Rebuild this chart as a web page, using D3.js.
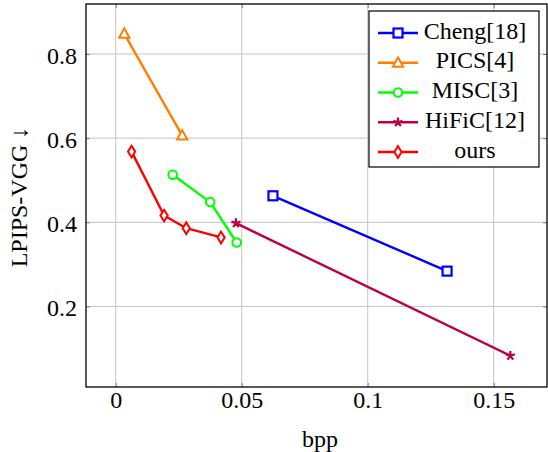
<!DOCTYPE html>
<meta charset="utf-8">
<style>
  body { margin: 0; background: #fff; }
</style>
<svg id="chart" width="548" height="452" font-family="Liberation Serif" font-size="24"></svg>
<script src="https://d3js.org/d3.v7.min.js"></script>
<script>
  // series: names, colours, marks and the read-off points (bpp, LPIPS-VGG)
  var seriesNames = ["Cheng[18]", "PICS[4]", "MISC[3]", "HiFiC[12]", "ours"];
  var seriesColors = ["#0000ff", "#ff8000", "#00ff00", "#bf0040", "#ff0000"];
  var seriesMarks = ["square", "triangle", "circle", "star", "diamond"];

  var chengBpp = [0.0624, 0.1315];
  var chengLpips = [0.463, 0.284];
  var picsBpp = [0.0034, 0.0264];
  var picsLpips = [0.848, 0.606];
  var miscBpp = [0.0226, 0.0375, 0.0480];
  var miscLpips = [0.513, 0.448, 0.352];
  var hificBpp = [0.0477, 0.1566];
  var hificLpips = [0.398, 0.083];
  var oursBpp = [0.0063, 0.0192, 0.0280, 0.0418];
  var oursLpips = [0.568, 0.416, 0.386, 0.364];

  var xTicks = [0, 0.05, 0.1, 0.15];
  var xTickLabels = ["0", "0.05", "0.1", "0.15"];
  var yTicks = [0.2, 0.4, 0.6, 0.8];
  var yTickLabels = ["0.2", "0.4", "0.6", "0.8"];

  var bppCols = [chengBpp, picsBpp, miscBpp, hificBpp, oursBpp];
  var lpipsCols = [chengLpips, picsLpips, miscLpips, hificLpips, oursLpips];
  var series = seriesNames.map(function(name, i) {
    return {
      name: name, color: seriesColors[i], mark: seriesMarks[i],
      pts: bppCols[i].map(function(b, j) { return [b, lpipsCols[i][j]]; })
    };
  });

  var pLeft = 86, pRight = 547, pTop = 4, pBottom = 387;
  var textStyle = "font-family:'Liberation Serif';font-size:24px";
  var svg = d3.select("#chart");

  var x = d3.scaleLinear().domain([-0.01179, 0.17115]).range([pLeft, pRight]);
  var y = d3.scaleLinear().domain([0.0086, 0.9188]).range([pBottom, pTop]);

  // grid
  var grid = svg.append("g").attr("stroke", "#c4c4c4").attr("stroke-width", 1);
  grid.selectAll(".gx").data(xTicks).enter().append("line")
      .attr("x1", d => x(d)).attr("x2", d => x(d))
      .attr("y1", pTop).attr("y2", pBottom);
  grid.selectAll(".gy").data(yTicks).enter().append("line")
      .attr("y1", d => y(d)).attr("y2", d => y(d))
      .attr("x1", pLeft).attr("x2", pRight);

  // axes (ticks inward, on both sides like pgfplots)
  var xAxisB = d3.axisBottom(x).tickValues(xTicks).tickSizeInner(-4).tickSizeOuter(0)
      .tickFormat((d, i) => xTickLabels[i]).tickPadding(4);
  var gxb = svg.append("g").attr("transform", "translate(0," + pBottom + ")").call(xAxisB);
  var gxt = svg.append("g").attr("transform", "translate(0," + pTop + ")")
      .call(d3.axisTop(x).tickValues(xTicks).tickSizeInner(-4).tickSizeOuter(0).tickFormat(""));
  var yAxisL = d3.axisLeft(y).tickValues(yTicks).tickSizeInner(-4).tickSizeOuter(0)
      .tickFormat((d, i) => yTickLabels[i]).tickPadding(9);
  var gyl = svg.append("g").attr("transform", "translate(" + pLeft + ",0)").call(yAxisL);
  var gyr = svg.append("g").attr("transform", "translate(" + pRight + ",0)")
      .call(d3.axisRight(y).tickValues(yTicks).tickSizeInner(-4).tickSizeOuter(0).tickFormat(""));
  [gxb, gxt, gyl, gyr].forEach(function(g) {
    g.select(".domain").remove();
    g.attr("font-family", "Liberation Serif").attr("font-size", 24);
    g.selectAll(".tick line").attr("stroke", "#808080");
    g.selectAll(".tick text").attr("style", textStyle);
  });
  gyl.selectAll(".tick text").attr("dy", "0.38em");

  svg.append("rect").attr("x", pLeft).attr("y", pTop)
      .attr("width", pRight - pLeft).attr("height", pBottom - pTop)
      .attr("fill", "none").attr("stroke", "#000").attr("stroke-width", 1.3);

  // marks
  function drawMark(g, mark, color) {
    if (mark === "square") {
      g.append("rect").attr("x", -4.5).attr("y", -4.5).attr("width", 9).attr("height", 9)
        .attr("fill", "#fff").attr("stroke", color).attr("stroke-width", 2.2);
    } else if (mark === "triangle") {
      g.append("path").attr("d", "M0,-5.5L5.2,4L-5.2,4Z")
        .attr("fill", "#fff").attr("stroke", color).attr("stroke-width", 2);
    } else if (mark === "circle") {
      g.append("circle").attr("r", 4.3)
        .attr("fill", "#fff").attr("stroke", color).attr("stroke-width", 2);
    } else if (mark === "diamond") {
      g.append("path").attr("d", "M0,-5.8L3.6,0L0,5.8L-3.6,0Z")
        .attr("fill", "#fff").attr("stroke", color).attr("stroke-width", 2);
    } else if (mark === "star") {
      var d = "";
      for (var k = 0; k < 5; k++) {
        var a = -Math.PI / 2 + k * 2 * Math.PI / 5;
        d += "M0,0L" + (4.8 * Math.cos(a)).toFixed(2) + "," + (4.8 * Math.sin(a)).toFixed(2);
      }
      g.append("path").attr("d", d).attr("stroke", color).attr("stroke-width", 2.2)
        .attr("fill", "none");
    }
  }

  var line = d3.line().x(d => x(d[0])).y(d => y(d[1]));
  var plots = svg.append("g");
  series.forEach(function(s) {
    plots.append("path").datum(s.pts).attr("d", line)
      .attr("fill", "none").attr("stroke", s.color).attr("stroke-width", 2.4)
      .attr("stroke-linejoin", "round");
    s.pts.forEach(function(p) {
      var g = plots.append("g").attr("transform", "translate(" + x(p[0]) + "," + y(p[1]) + ")");
      drawMark(g, s.mark, s.color);
    });
  });

  // axis titles
  svg.append("text").attr("x", 320).attr("y", 447).attr("text-anchor", "middle")
      .attr("style", textStyle).text("bpp");
  svg.append("text").attr("transform", "translate(27,197) rotate(-90)")
      .attr("text-anchor", "middle").attr("style", textStyle)
      .text("LPIPS-VGG \u2193");

  // legend
  var lg = svg.append("g");
  lg.append("rect").attr("x", 369).attr("y", 11).attr("width", 170).attr("height", 156)
      .attr("fill", "#fff").attr("stroke", "#000").attr("stroke-width", 1.2);
  var rowY = d3.scalePoint().domain(seriesNames).range([33, 152]);
  series.forEach(function(s) {
    var cy = rowY(s.name);
    lg.append("line").attr("x1", 378).attr("x2", 418).attr("y1", cy).attr("y2", cy)
      .attr("stroke", s.color).attr("stroke-width", 2.4);
    drawMark(lg.append("g").attr("transform", "translate(398," + cy + ")"), s.mark, s.color);
    lg.append("text").attr("x", 475).attr("y", cy + 5.5)
      .attr("text-anchor", "middle").attr("style", textStyle)
      .text(s.name);
  });
</script>
